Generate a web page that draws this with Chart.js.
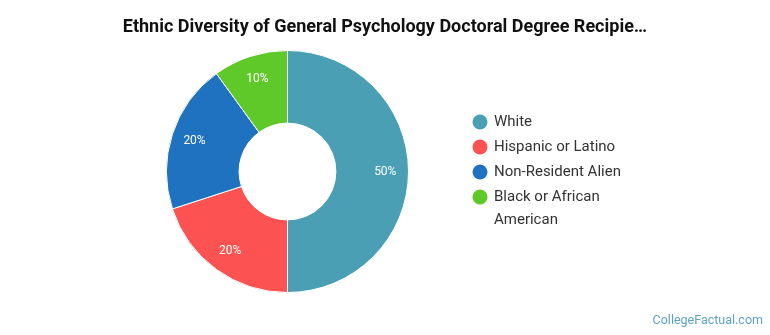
<!DOCTYPE html>
<html>
<head>
<meta charset="utf-8">
<script src="https://cdn.jsdelivr.net/npm/chart.js@4"></script>
<style>
  html, body { margin: 0; padding: 0; background: #fff; }
  #wrap { position: relative; width: 770px; height: 335px; }
</style>
</head>
<body>
<div id="wrap"><canvas id="chart" width="770" height="335"></canvas></div>
<script>
// data
const titleText = 'Ethnic Diversity of General Psychology Doctoral Degree Recipie\u2026';
const categories = ['White', 'Hispanic or Latino', 'Non-Resident Alien', 'Black or African American'];
const legendLines = [['White'], ['Hispanic or Latino'], ['Non-Resident Alien'], ['Black or African', 'American']];
const shares = [50, 20, 20, 10];
const colors = ['#4a9fb5', '#fd5252', '#1f72bf', '#5ec928'];

//  title, legend, slice labels, credit
const extras = {
  id: 'extras',
  afterDatasetsDraw(chart) {
    const ctx = chart.ctx;
    const meta = chart.getDatasetMeta(0);
    ctx.save();
    ctx.fillStyle = '#fff';
    ctx.font = '12px Roboto';
    ctx.textAlign = 'center';
    ctx.textBaseline = 'middle';
    meta.data.forEach((arc, i) => {
      const mid = (arc.startAngle + arc.endAngle) / 2;
      const r = arc.innerRadius + 0.68 * (arc.outerRadius - arc.innerRadius);
      ctx.fillText(shares[i] + '%', arc.x + Math.cos(mid) * r, arc.y + Math.sin(mid) * r);
    });

    ctx.fillStyle = '#111';
    ctx.font = 'bold 18px Roboto';
    ctx.fillText(titleText, 385, 27);

    ctx.textAlign = 'left';
    ctx.font = '15px Roboto';
    let y = 122;
    legendLines.forEach((lines, i) => {
      ctx.fillStyle = colors[i];
      ctx.beginPath();
      ctx.arc(480, y, 7.5, 0, Math.PI * 2);
      ctx.fill();
      ctx.fillStyle = '#333';
      lines.forEach((ln, j) => ctx.fillText(ln, 494, y + j * 23));
      y += 25;
    });

    ctx.textAlign = 'right';
    ctx.font = '12.5px Roboto';
    ctx.fillStyle = '#5fa3c3';
    ctx.fillText('CollegeFactual.com', 763, 321);
    ctx.restore();
  }
};

new Chart(document.getElementById('chart'), {
  type: 'doughnut',
  data: {
    labels: categories,
    datasets: [{
      data: shares,
      backgroundColor: colors,
      borderColor: '#fff',
      borderWidth: 1
    }]
  },
  options: {
    responsive: false,
    animation: false,
    cutout: '40%',
    layout: { padding: { left: 166, right: 361, top: 50, bottom: 42 } },
    plugins: {
      legend: { display: false },
      tooltip: { enabled: false }
    }
  },
  plugins: [extras]
});
</script>
</body>
</html>
